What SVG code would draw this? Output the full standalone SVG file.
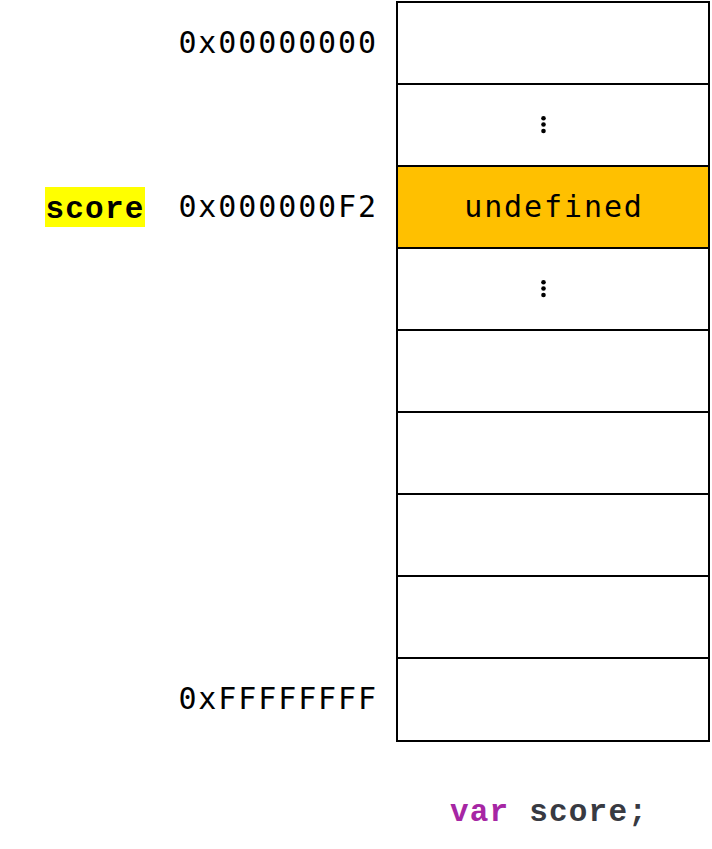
<svg xmlns="http://www.w3.org/2000/svg" width="712" height="849" viewBox="0 0 712 849">
<style>
.t{font-family:"DejaVu Sans Mono","Liberation Mono",monospace;font-size:30px;letter-spacing:1.9px;fill:#000}
.cell{fill:#fff;stroke:#000;stroke-width:2}
.b{font-family:"Liberation Mono","DejaVu Sans Mono",monospace;font-weight:bold;font-size:31px;letter-spacing:1.2px}
</style>
<rect x="0" y="0" width="712" height="849" fill="#fff"/>
<g id="memory">
<g id="cell0"><rect class="cell" x="397" y="2" width="312" height="82"/></g>
<g id="cell1"><rect class="cell" x="397" y="84" width="312" height="82"/><circle cx="543.5" cy="118.3" r="2.3"/><circle cx="543.5" cy="124.5" r="2.3"/><circle cx="543.5" cy="131" r="2.3"/></g>
<g id="cell2"><rect x="397" y="166" width="312" height="82" fill="#FFC000" stroke="#000" stroke-width="2"/><text class="t" x="554" y="217" text-anchor="middle">undefined</text></g>
<g id="cell3"><rect class="cell" x="397" y="248" width="312" height="82"/><circle cx="543.5" cy="282.3" r="2.3"/><circle cx="543.5" cy="288.5" r="2.3"/><circle cx="543.5" cy="295" r="2.3"/></g>
<g id="cell4"><rect class="cell" x="397" y="330" width="312" height="82"/></g>
<g id="cell5"><rect class="cell" x="397" y="412" width="312" height="82"/></g>
<g id="cell6"><rect class="cell" x="397" y="494" width="312" height="82"/></g>
<g id="cell7"><rect class="cell" x="397" y="576" width="312" height="82"/></g>
<g id="cell8"><rect class="cell" x="397" y="658" width="312" height="83"/></g>
</g>
<g id="addresses">
<text class="t" x="378" y="53" text-anchor="end">0x00000000</text>
<text class="t" x="378" y="217" text-anchor="end">0x000000F2</text>
<text class="t" x="378" y="709" text-anchor="end">0xFFFFFFFF</text>
</g>
<g id="label-score">
<rect x="45" y="187" width="100" height="40" fill="#FFFF00"/>
<text class="t b" x="95" y="218" text-anchor="middle">score</text>
</g>
<g id="code">
<text class="t b" x="549" y="821" text-anchor="middle"><tspan fill="#A626A4">var</tspan><tspan fill="#383A42"> score;</tspan></text>
</g>
<g id="connectors"></g>
</svg>
